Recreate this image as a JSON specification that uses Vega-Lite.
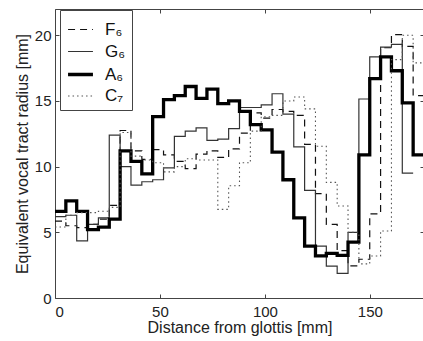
{
  "$schema": "https://vega.github.io/schema/vega-lite/v6.json",
  "width": 369,
  "height": 289,
  "autosize": {"type": "none"},
  "padding": {"left": 55, "top": 9, "right": 0, "bottom": 43},
  "config": {
    "font": "Liberation Sans",
    "view": {"stroke": "#444", "strokeWidth": 1},
    "axis": {
      "domainColor": "#444", "tickColor": "#444", "labelColor": "#222", "titleColor": "#222",
      "labelFontSize": 15, "titleFontSize": 16, "titleFontWeight": "normal", "grid": false,
      "tickSize": -4
    },
    "legend": {
      "title": null, "orient": "none", "legendX": 5, "legendY": 1, "symbolType": "stroke",
      "symbolSize": 620, "labelFontSize": 17, "labelColor": "#111",
      "strokeColor": "#444", "fillColor": "white", "padding": 6, "rowPadding": -1, "labelOffset": 10
    }
  },
  "datasets": {
    "tract": [
      {"series": "F₆", "x": 0, "r": 5.85}, {"series": "F₆", "x": 5.17, "r": 5.5}, {"series": "F₆", "x": 10.34, "r": 5.35},
      {"series": "F₆", "x": 15.51, "r": 5.6}, {"series": "F₆", "x": 20.68, "r": 6.0}, {"series": "F₆", "x": 25.85, "r": 7.05},
      {"series": "F₆", "x": 31.02, "r": 12.75}, {"series": "F₆", "x": 36.19, "r": 11.2}, {"series": "F₆", "x": 41.36, "r": 10.55},
      {"series": "F₆", "x": 46.53, "r": 11.3}, {"series": "F₆", "x": 51.7, "r": 10.9}, {"series": "F₆", "x": 56.87, "r": 10.4},
      {"series": "F₆", "x": 62.04, "r": 9.85}, {"series": "F₆", "x": 67.21, "r": 10.95}, {"series": "F₆", "x": 72.38, "r": 11.2},
      {"series": "F₆", "x": 77.55, "r": 10.7}, {"series": "F₆", "x": 82.72, "r": 11.35}, {"series": "F₆", "x": 87.89, "r": 12.55},
      {"series": "F₆", "x": 93.06, "r": 14.1}, {"series": "F₆", "x": 98.23, "r": 13.7}, {"series": "F₆", "x": 103.4, "r": 14.35},
      {"series": "F₆", "x": 108.57, "r": 14.2}, {"series": "F₆", "x": 113.74, "r": 13.9}, {"series": "F₆", "x": 118.91, "r": 11.7},
      {"series": "F₆", "x": 124.08, "r": 7.95}, {"series": "F₆", "x": 129.25, "r": 5.6}, {"series": "F₆", "x": 134.42, "r": 3.6},
      {"series": "F₆", "x": 139.59, "r": 2.45}, {"series": "F₆", "x": 144.76, "r": 2.95}, {"series": "F₆", "x": 149.93, "r": 6.4},
      {"series": "F₆", "x": 155.1, "r": 19.05}, {"series": "F₆", "x": 160.27, "r": 20.05}, {"series": "F₆", "x": 165.44, "r": 19.15},
      {"series": "F₆", "x": 170.61, "r": 15.4}, {"series": "F₆", "x": 175.78, "r": 15.4},

      {"series": "G₆", "x": 0, "r": 6.2}, {"series": "G₆", "x": 5.17, "r": 6.3}, {"series": "G₆", "x": 10.34, "r": 4.35},
      {"series": "G₆", "x": 15.51, "r": 5.6}, {"series": "G₆", "x": 20.68, "r": 6.1}, {"series": "G₆", "x": 25.85, "r": 12.4},
      {"series": "G₆", "x": 31.02, "r": 10.0}, {"series": "G₆", "x": 36.19, "r": 8.6}, {"series": "G₆", "x": 41.36, "r": 8.85},
      {"series": "G₆", "x": 46.53, "r": 9.0}, {"series": "G₆", "x": 51.7, "r": 9.9}, {"series": "G₆", "x": 56.87, "r": 12.3},
      {"series": "G₆", "x": 62.04, "r": 12.7}, {"series": "G₆", "x": 67.21, "r": 12.95}, {"series": "G₆", "x": 72.38, "r": 12.0},
      {"series": "G₆", "x": 77.55, "r": 12.1}, {"series": "G₆", "x": 82.72, "r": 12.9}, {"series": "G₆", "x": 87.89, "r": 14.5},
      {"series": "G₆", "x": 93.06, "r": 14.5}, {"series": "G₆", "x": 98.23, "r": 14.7}, {"series": "G₆", "x": 103.4, "r": 15.55},
      {"series": "G₆", "x": 108.57, "r": 14.0}, {"series": "G₆", "x": 113.74, "r": 11.5}, {"series": "G₆", "x": 118.91, "r": 8.2},
      {"series": "G₆", "x": 124.08, "r": 3.95}, {"series": "G₆", "x": 129.25, "r": 2.43}, {"series": "G₆", "x": 134.42, "r": 1.88},
      {"series": "G₆", "x": 139.59, "r": 5.0}, {"series": "G₆", "x": 144.76, "r": 15.15}, {"series": "G₆", "x": 149.93, "r": 18.35},
      {"series": "G₆", "x": 155.1, "r": 19.1}, {"series": "G₆", "x": 160.27, "r": 19.3}, {"series": "G₆", "x": 165.44, "r": 9.5},
      {"series": "G₆", "x": 170.61, "r": 9.5},

      {"series": "A₆", "x": 0, "r": 6.6}, {"series": "A₆", "x": 5.17, "r": 7.4}, {"series": "A₆", "x": 10.34, "r": 6.6},
      {"series": "A₆", "x": 15.51, "r": 5.2}, {"series": "A₆", "x": 20.68, "r": 5.4}, {"series": "A₆", "x": 25.85, "r": 6.0},
      {"series": "A₆", "x": 31.02, "r": 11.2}, {"series": "A₆", "x": 36.19, "r": 10.4}, {"series": "A₆", "x": 41.36, "r": 9.45},
      {"series": "A₆", "x": 46.53, "r": 13.8}, {"series": "A₆", "x": 51.7, "r": 15.1}, {"series": "A₆", "x": 56.87, "r": 15.4},
      {"series": "A₆", "x": 62.04, "r": 16.1}, {"series": "A₆", "x": 67.21, "r": 15.2}, {"series": "A₆", "x": 72.38, "r": 15.9},
      {"series": "A₆", "x": 77.55, "r": 14.8}, {"series": "A₆", "x": 82.72, "r": 15.0}, {"series": "A₆", "x": 87.89, "r": 14.2},
      {"series": "A₆", "x": 93.06, "r": 13.2}, {"series": "A₆", "x": 98.23, "r": 12.8}, {"series": "A₆", "x": 103.4, "r": 11.1},
      {"series": "A₆", "x": 108.57, "r": 9.0}, {"series": "A₆", "x": 113.74, "r": 6.1}, {"series": "A₆", "x": 118.91, "r": 3.95},
      {"series": "A₆", "x": 124.08, "r": 3.2}, {"series": "A₆", "x": 129.25, "r": 3.4}, {"series": "A₆", "x": 134.42, "r": 3.25},
      {"series": "A₆", "x": 139.59, "r": 4.25}, {"series": "A₆", "x": 144.76, "r": 10.9}, {"series": "A₆", "x": 149.93, "r": 16.7},
      {"series": "A₆", "x": 155.1, "r": 18.35}, {"series": "A₆", "x": 160.27, "r": 17.3}, {"series": "A₆", "x": 165.44, "r": 14.85},
      {"series": "A₆", "x": 170.61, "r": 10.9}, {"series": "A₆", "x": 175.78, "r": 10.9},

      {"series": "C₇", "x": 0, "r": 5.4}, {"series": "C₇", "x": 5.17, "r": 6.3}, {"series": "C₇", "x": 10.34, "r": 6.5},
      {"series": "C₇", "x": 15.51, "r": 6.5}, {"series": "C₇", "x": 20.68, "r": 6.6}, {"series": "C₇", "x": 25.85, "r": 6.9},
      {"series": "C₇", "x": 31.02, "r": 12.6}, {"series": "C₇", "x": 36.19, "r": 10.8}, {"series": "C₇", "x": 41.36, "r": 10.5},
      {"series": "C₇", "x": 46.53, "r": 10.3}, {"series": "C₇", "x": 51.7, "r": 9.6}, {"series": "C₇", "x": 56.87, "r": 10.0},
      {"series": "C₇", "x": 62.04, "r": 10.6}, {"series": "C₇", "x": 67.21, "r": 10.5}, {"series": "C₇", "x": 72.38, "r": 10.5},
      {"series": "C₇", "x": 77.55, "r": 6.75}, {"series": "C₇", "x": 82.72, "r": 8.55}, {"series": "C₇", "x": 87.89, "r": 10.3},
      {"series": "C₇", "x": 93.06, "r": 12.7}, {"series": "C₇", "x": 98.23, "r": 13.8}, {"series": "C₇", "x": 103.4, "r": 13.9},
      {"series": "C₇", "x": 108.57, "r": 15.0}, {"series": "C₇", "x": 113.74, "r": 15.3}, {"series": "C₇", "x": 118.91, "r": 14.4},
      {"series": "C₇", "x": 124.08, "r": 11.55}, {"series": "C₇", "x": 129.25, "r": 8.8}, {"series": "C₇", "x": 134.42, "r": 7.0},
      {"series": "C₇", "x": 139.59, "r": 5.0}, {"series": "C₇", "x": 144.76, "r": 2.6}, {"series": "C₇", "x": 149.93, "r": 3.2},
      {"series": "C₇", "x": 155.1, "r": 5.1}, {"series": "C₇", "x": 160.27, "r": 18.15}, {"series": "C₇", "x": 165.44, "r": 20.0},
      {"series": "C₇", "x": 170.61, "r": 17.9}, {"series": "C₇", "x": 175.78, "r": 17.9}
    ]
  },
  "data": {"name": "tract"},
  "resolve": {"axis": {"x": "independent", "y": "independent"}},
  "layer": [
    {
      "mark": {"type": "line", "interpolate": "step-after", "strokeOpacity": 0},
      "encoding": {
        "x": {"field": "x", "type": "quantitative", "scale": {"domain": [0, 175.78], "nice": false},
              "axis": {"orient": "top", "values": [0, 50, 100, 150], "labels": false, "title": null, "domain": false}},
        "y": {"field": "r", "type": "quantitative", "scale": {"domain": [0, 22], "nice": false},
              "axis": {"orient": "right", "values": [0, 5, 10, 15, 20], "labels": false, "title": null, "domain": false}},
        "detail": {"field": "series"}
      }
    },
    {
      "mark": {"type": "line", "interpolate": "step-after"},
      "encoding": {
        "x": {"field": "x", "type": "quantitative", "scale": {"domain": [0, 175.78], "nice": false},
              "axis": {"values": [0, 50, 100, 150], "title": "Distance from glottis [mm]", "labelPadding": 10, "titlePadding": 0, "domain": false}},
        "y": {"field": "r", "type": "quantitative", "scale": {"domain": [0, 22], "nice": false},
              "axis": {"values": [0, 5, 10, 15, 20], "title": "Equivalent vocal tract radius [mm]", "labelPadding": 8, "titlePadding": 4, "domain": false}},
        "color": {"field": "series", "type": "ordinal", "sort": ["F₆", "G₆", "A₆", "C₇"],
                  "scale": {"type": "ordinal", "domain": ["F₆", "G₆", "A₆", "C₇"], "range": ["#111", "#333", "#000", "#555"]}},
        "strokeDash": {"field": "series", "type": "ordinal", "sort": ["F₆", "G₆", "A₆", "C₇"],
                       "scale": {"type": "ordinal", "domain": ["F₆", "G₆", "A₆", "C₇"], "range": [[7, 5], [1, 0], [1, 0], [1.5, 3]]}},
        "strokeWidth": {"field": "series", "type": "ordinal", "sort": ["F₆", "G₆", "A₆", "C₇"],
                        "scale": {"type": "ordinal", "domain": ["F₆", "G₆", "A₆", "C₇"], "range": [1.2, 1.2, 3.3, 1.1]}}
      }
    }
  ]
}
